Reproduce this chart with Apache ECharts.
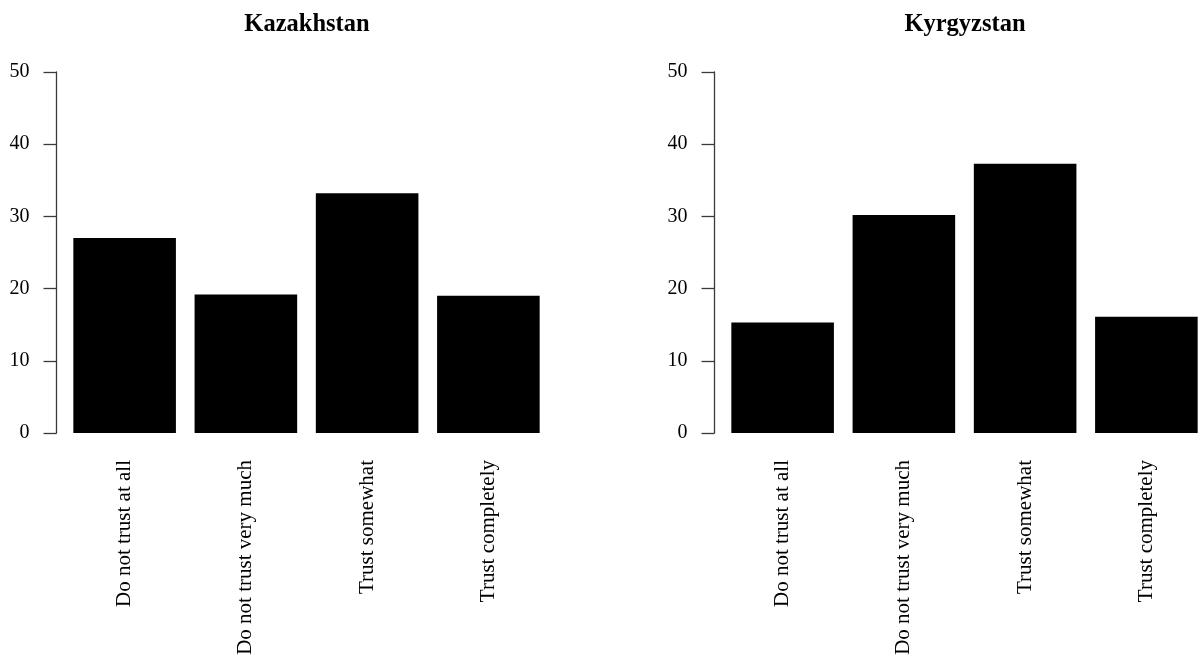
<!DOCTYPE html>
<html>
<head>
<meta charset="utf-8">
<script src="https://cdn.jsdelivr.net/npm/echarts@6/dist/echarts.min.js"></script>
<style>
html,body{margin:0;padding:0;background:#fff;}
#chart{width:1200px;height:659px;}
</style>
</head>
<body>
<div id="chart"></div>
<script>
var categories = ["Do not trust at all", "Do not trust very much", "Trust somewhat", "Trust completely"];
var kazakhstan = [27.0, 19.2, 33.2, 19.0];
var kyrgyzstan = [15.3, 30.2, 37.3, 16.1];
var panelTitles = ["Kazakhstan", "Kyrgyzstan"];
var yTicks = [0, 10, 20, 30, 40, 50];

var FONT = '"Liberation Serif", "DejaVu Serif", serif';
var chart = echarts.init(document.getElementById('chart'), null, {renderer: 'canvas'});

function xAx(i) {
  return {
    type: 'category', gridIndex: i, data: categories,
    axisLine: {show: false}, axisTick: {show: false},
    axisLabel: {rotate: 90, margin: 27, fontFamily: FONT, fontSize: 21, color: '#000', interval: 0}
  };
}
function yAx(i) {
  return {
    type: 'value', gridIndex: i, min: yTicks[0], max: yTicks[yTicks.length - 1], interval: 10,
    offset: 7.5,
    splitLine: {show: false},
    axisLine: {show: true, lineStyle: {color: '#3a3a3a', width: 1.3}},
    axisTick: {show: true, length: 13, lineStyle: {color: '#3a3a3a', width: 1.3}},
    axisLabel: {margin: 27, fontFamily: FONT, fontSize: 20, color: '#000'}
  };
}

chart.setOption({
  backgroundColor: '#fff',
  animation: false,
  title: [
    {text: panelTitles[0], left: 302, top: 7, textAlign: 'center',
     textStyle: {fontFamily: FONT, fontSize: 24.5, fontWeight: 'bold', color: '#000'}},
    {text: panelTitles[1], left: 960, top: 7, textAlign: 'center',
     textStyle: {fontFamily: FONT, fontSize: 24.5, fontWeight: 'bold', color: '#000'}}
  ],
  grid: [
    {left: 64, width: 485, top: 72, bottom: 226, outerBoundsMode: 'none', containLabel: false},
    {left: 722, width: 485, top: 72, bottom: 226, outerBoundsMode: 'none', containLabel: false}
  ],
  xAxis: [xAx(0), xAx(1)],
  yAxis: [yAx(0), yAx(1)],
  series: [
    {type: 'bar', xAxisIndex: 0, yAxisIndex: 0, data: kazakhstan, barCategoryGap: '15.4%',
     itemStyle: {color: '#000'}},
    {type: 'bar', xAxisIndex: 1, yAxisIndex: 1, data: kyrgyzstan, barCategoryGap: '15.4%',
     itemStyle: {color: '#000'}}
  ]
});
</script>
</body>
</html>
